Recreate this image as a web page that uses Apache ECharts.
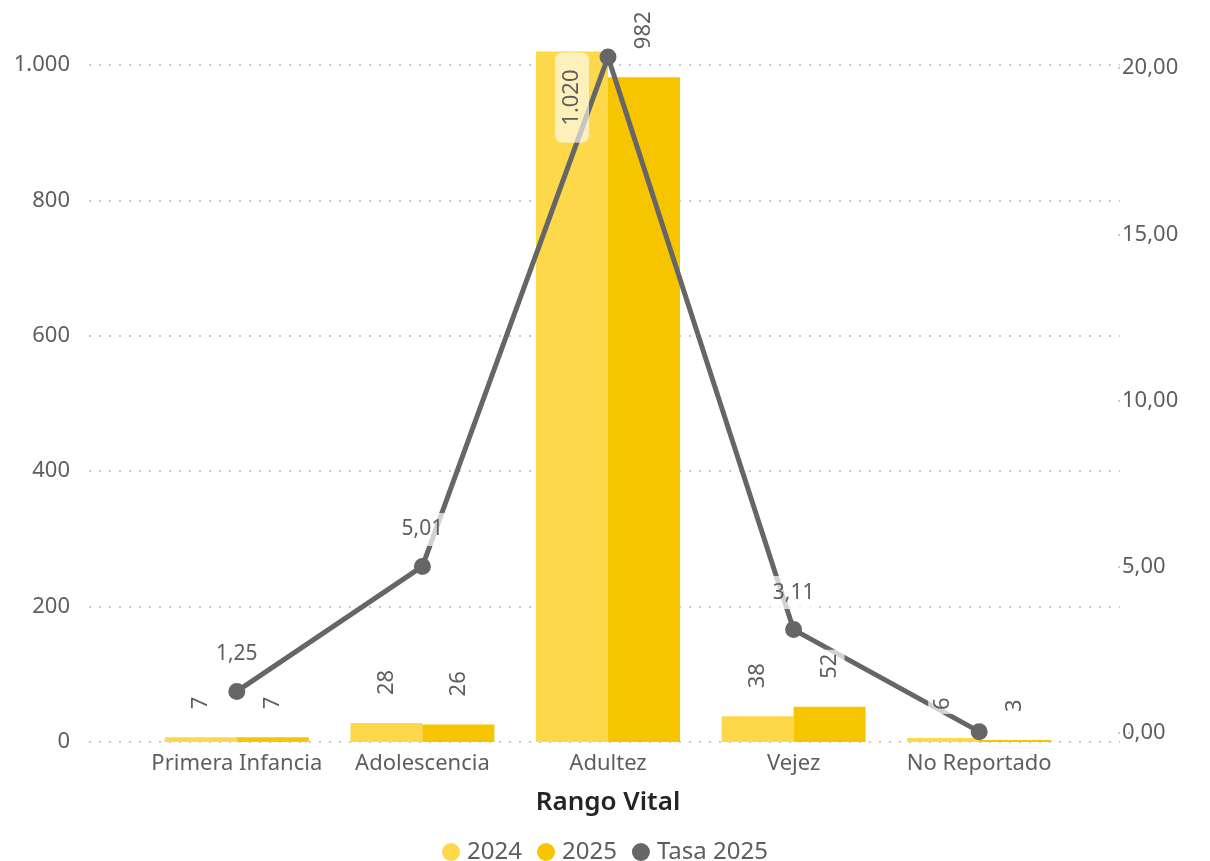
<!DOCTYPE html>
<html><head><meta charset="utf-8">
<script src="https://cdn.jsdelivr.net/npm/echarts@6/dist/echarts.min.js"></script>
<style>html,body{margin:0;padding:0;background:#fff}#c{width:1210px;height:861px}</style>
</head><body><div id="c"></div>
<script>
const categories = ['Primera Infancia', 'Adolescencia', 'Adultez', 'Vejez', 'No Reportado'];
const values2024 = [7, 28, 1020, 38, 6];
const values2025 = [7, 26, 982, 52, 3];
const tasa2025 = [1.25, 5.01, 20.33, 3.11, 0.04];
const hiddenLineLabels = [2, 4];
const leftTicks = [0, 200, 400, 600, 800, 1000];
const rightTicks = [0, 5, 10, 15, 20];
const legendNames = ['2024', '2025', 'Tasa 2025'];
const axisTitle = 'Rango Vital';

const FONT = '"Noto Sans", "Open Sans", sans-serif';
const C24 = '#FCD84A', C25 = '#F7C500', CLINE = '#666666', CTXT = '#605E5C';
const fmtInt = v => String(Math.round(v)).replace(/\B(?=(\d{3})+(?!\d))/g, '.');
const fmtDec = v => Number(v).toFixed(2).replace('.', ',');
const dotted = { color: '#CACACA', width: 2, type: [2, 8] };

const L = { min: leftTicks[0], max: leftTicks[leftTicks.length - 1], interval: leftTicks[1] - leftTicks[0] };
const R = { min: rightTicks[0], max: rightTicks[rightTicks.length - 1], interval: rightTicks[1] - rightTicks[0] };

const barLabel = {
  show: true, position: 'top', rotate: 90, align: 'left', verticalAlign: 'middle', distance: 24,
  fontFamily: FONT, fontSize: 22, color: CTXT, formatter: p => fmtInt(p.value),
  backgroundColor: 'rgba(255,255,255,0.7)', padding: [4, 4, 4, 4]
};

const chart = echarts.init(document.getElementById('c'), null, { renderer: 'canvas' });
const grids = [
  { left: 144, right: 138, top: 65, bottom: 119 },   // bars
  { left: 144, right: 138, top: 68, bottom: 128 },   // line
  { left: 89, right: 90, top: 65, bottom: 119 },     // left gridlines
  { left: 144, right: 138, top: 65, bottom: 119 },   // bar labels overlay
  { left: 1118, right: 79, top: 68, bottom: 128 }    // right tick dots
].map(g => Object.assign({ outerBoundsMode: 'none', containLabel: false }, g));

const hiddenCat = i => ({ type: 'category', gridIndex: i, data: categories, show: false, boundaryGap: true });
const hiddenVal = i => ({ type: 'value', gridIndex: i, show: false, min: 0, max: 1 });

chart.setOption({
  animation: false,
  backgroundColor: '#ffffff',
  grid: grids,
  legend: {
    data: legendNames, top: 835, left: 'center', icon: 'circle',
    itemWidth: 18, itemHeight: 18, itemGap: 15,
    textStyle: { fontFamily: FONT, fontSize: 24, color: CTXT, padding: [0, 0, 0, 2] }
  },
  xAxis: [
    {
      type: 'category', gridIndex: 0, data: categories, boundaryGap: true,
      axisLine: { show: false }, axisTick: { show: false },
      axisLabel: { fontFamily: FONT, fontSize: 22, color: CTXT, margin: 11, interval: 0 },
      name: axisTitle, nameLocation: 'middle', nameGap: 48,
      nameTextStyle: { fontFamily: FONT, fontSize: 26, fontWeight: 600, color: '#252423' }
    },
    hiddenCat(1), hiddenVal(2), hiddenCat(3), hiddenVal(4)
  ],
  yAxis: [
    { type: 'value', gridIndex: 0, show: false, min: L.min, max: L.max, interval: L.interval, splitLine: { show: false } },
    {
      type: 'value', gridIndex: 1, position: 'right', min: R.min, max: R.max, interval: R.interval,
      axisLine: { show: false }, axisTick: { show: false }, splitLine: { show: false },
      axisLabel: { fontFamily: FONT, fontSize: 22, color: CTXT, margin: 50, formatter: fmtDec }
    },
    {
      type: 'value', gridIndex: 2, position: 'left', min: L.min, max: L.max, interval: L.interval,
      axisLine: { show: false }, axisTick: { show: false },
      splitLine: { show: true, lineStyle: dotted },
      axisLabel: { fontFamily: FONT, fontSize: 22, color: CTXT, margin: 19, formatter: fmtInt }
    },
    { type: 'value', gridIndex: 3, show: false, min: L.min, max: L.max, interval: L.interval, splitLine: { show: false } },
    {
      type: 'value', gridIndex: 4, min: R.min, max: R.max, interval: R.interval,
      axisLine: { show: false }, axisTick: { show: false }, axisLabel: { show: false },
      splitLine: { show: true, lineStyle: dotted }
    }
  ],
  series: [
    {
      name: '2024', type: 'bar', xAxisIndex: 0, yAxisIndex: 0, data: values2024, clip: false,
      barWidth: 72, barGap: '0%', itemStyle: { color: C24 }, z: 2
    },
    {
      name: '2025', type: 'bar', xAxisIndex: 0, yAxisIndex: 0, data: values2025, clip: false,
      barWidth: 72, barGap: '0%', itemStyle: { color: C25 }, z: 2
    },
    {
      name: 'Tasa 2025', type: 'line', xAxisIndex: 1, yAxisIndex: 1, clip: false, z: 3,
      data: tasa2025.map((v, i) => hiddenLineLabels.includes(i) ? { value: v, label: { show: false } } : v),
      symbol: 'circle', symbolSize: 17, showSymbol: true,
      lineStyle: { width: 5, color: CLINE }, itemStyle: { color: CLINE },
      label: {
        show: true, position: 'top', distance: 12, formatter: p => fmtDec(p.value),
        fontFamily: FONT, fontSize: 21, color: CTXT,
        backgroundColor: 'rgba(255,255,255,0.7)', padding: [6, 3, 6, 3]
      }
    },
    {
      name: 'lbl2024', type: 'bar', xAxisIndex: 3, yAxisIndex: 3, clip: false, z: 4, silent: true,
      barWidth: 72, barGap: '0%', itemStyle: { color: 'rgba(0,0,0,0)' },
      data: values2024.map(v => v === Math.max(...values2024) ? {
        value: v,
        label: {
          position: 'insideTop', align: 'right', verticalAlign: 'middle', distance: 1,
          backgroundColor: 'rgba(255,255,255,0.62)', borderRadius: 7, padding: [6, 17, 6, 17]
        }
      } : v),
      label: barLabel
    },
    {
      name: 'lbl2025', type: 'bar', xAxisIndex: 3, yAxisIndex: 3, clip: false, z: 4, silent: true,
      barWidth: 72, barGap: '0%', itemStyle: { color: 'rgba(0,0,0,0)' },
      data: values2025, label: barLabel
    }
  ]
});
</script>
</body></html>
